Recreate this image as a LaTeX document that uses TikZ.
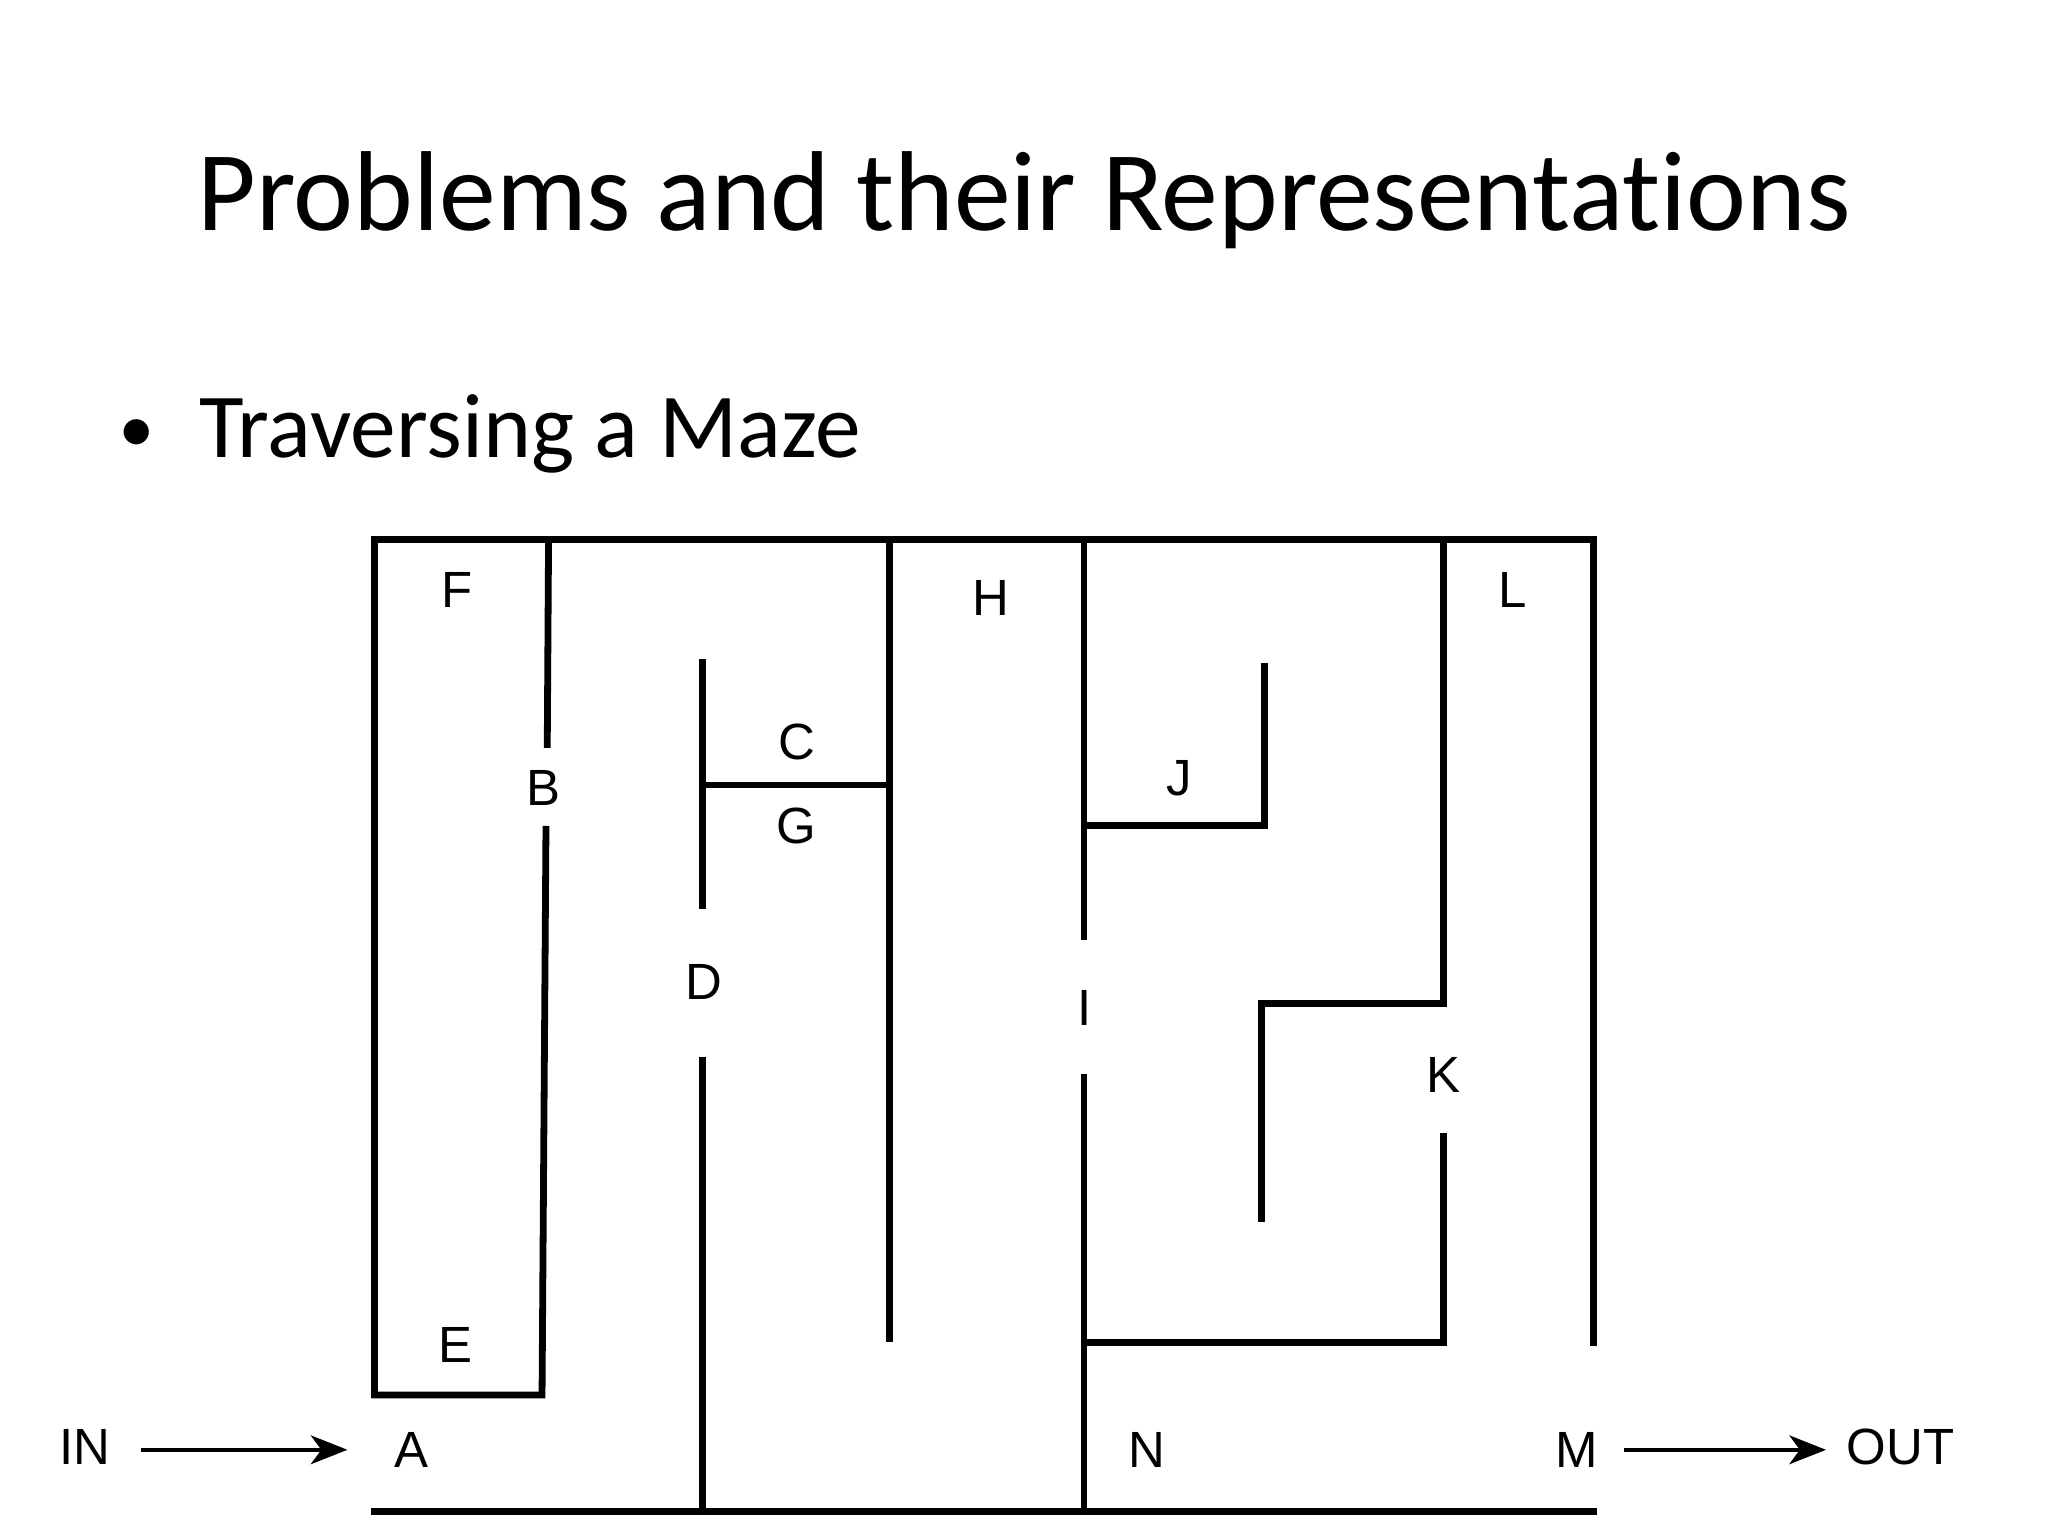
\documentclass[tikz,border=0pt]{standalone}
\usepackage{fontspec}
\setmainfont[Ligatures=NoCommon]{Carlito}
\newfontfamily\lab{Liberation Sans}
\usetikzlibrary{arrows.meta}
\begin{document}
\begin{tikzpicture}[x=0.5pt,y=-0.5pt,
  wall/.style={line width=2.6pt,line cap=rect},
  lbl/.style={font=\lab\fontsize{19.5}{22}\selectfont,inner sep=0pt},
  arr/.style={line width=1.6pt,-{Stealth[length=14pt,width=11pt,inset=4pt]}}]
\useasboundingbox (0,0) rectangle (1568,1176);
\node[font=\fontsize{43.5}{52}\selectfont] (title) at (784,153) {Problems and their Representations};
\node[font=\fontsize{35}{42}\selectfont] (dot) at (105,332) {$\bullet$};
\node[font=\fontsize{35}{42}\selectfont,anchor=west,inner sep=0pt] (bul) at (152,332) {Traversing a Maze};
% walls
\draw[wall] (287,1068) -- (287,413) -- (1220,413) -- (1220,1028);
\draw[wall] (420,413) -- (419,570);
\draw[wall] (418,635) -- (415,1068) -- (287,1068);
\draw[wall] (538,507) -- (538,693);
\draw[wall] (538,601) -- (679,601);
\draw[wall] (538,812) -- (538,1157);
\draw[wall] (287,1157) -- (1220,1157);
\draw[wall] (681,413) -- (681,1025);
\draw[wall] (830,413) -- (830,717);
\draw[wall] (830,825) -- (830,1157);
\draw[wall] (830,632) -- (968,632) -- (968,510);
\draw[wall] (830,1028) -- (1105,1028) -- (1105,870);
\draw[wall] (1105,413) -- (1105,768) -- (966,768) -- (966,933);
% labels
\node[lbl] (F) at (350,452) {F};
\node[lbl] (B) at (416,603) {B};
\node[lbl] (C) at (610,568) {C};
\node[lbl] (G) at (610,632) {G};
\node[lbl] (H) at (759,458) {H};
\node[lbl] (J) at (903,596) {J};
\node[lbl] (L) at (1158,452) {L};
\node[lbl] (D) at (539,752) {D};
\node[lbl] (I) at (830,772) {I};
\node[lbl] (K) at (1105,823) {K};
\node[lbl] (E) at (349,1030) {E};
\node[lbl] (A) at (315,1110) {A};
\node[lbl] (N) at (878,1110) {N};
\node[lbl] (M) at (1207,1110) {M};
\node[lbl] (IN) at (65,1108) {IN};
\node[lbl] (OUT) at (1455,1108) {OUT};
\draw[arr] (108,1110) -- (266,1110);
\draw[arr] (1243,1110) -- (1398,1110);
\end{tikzpicture}
\end{document}
